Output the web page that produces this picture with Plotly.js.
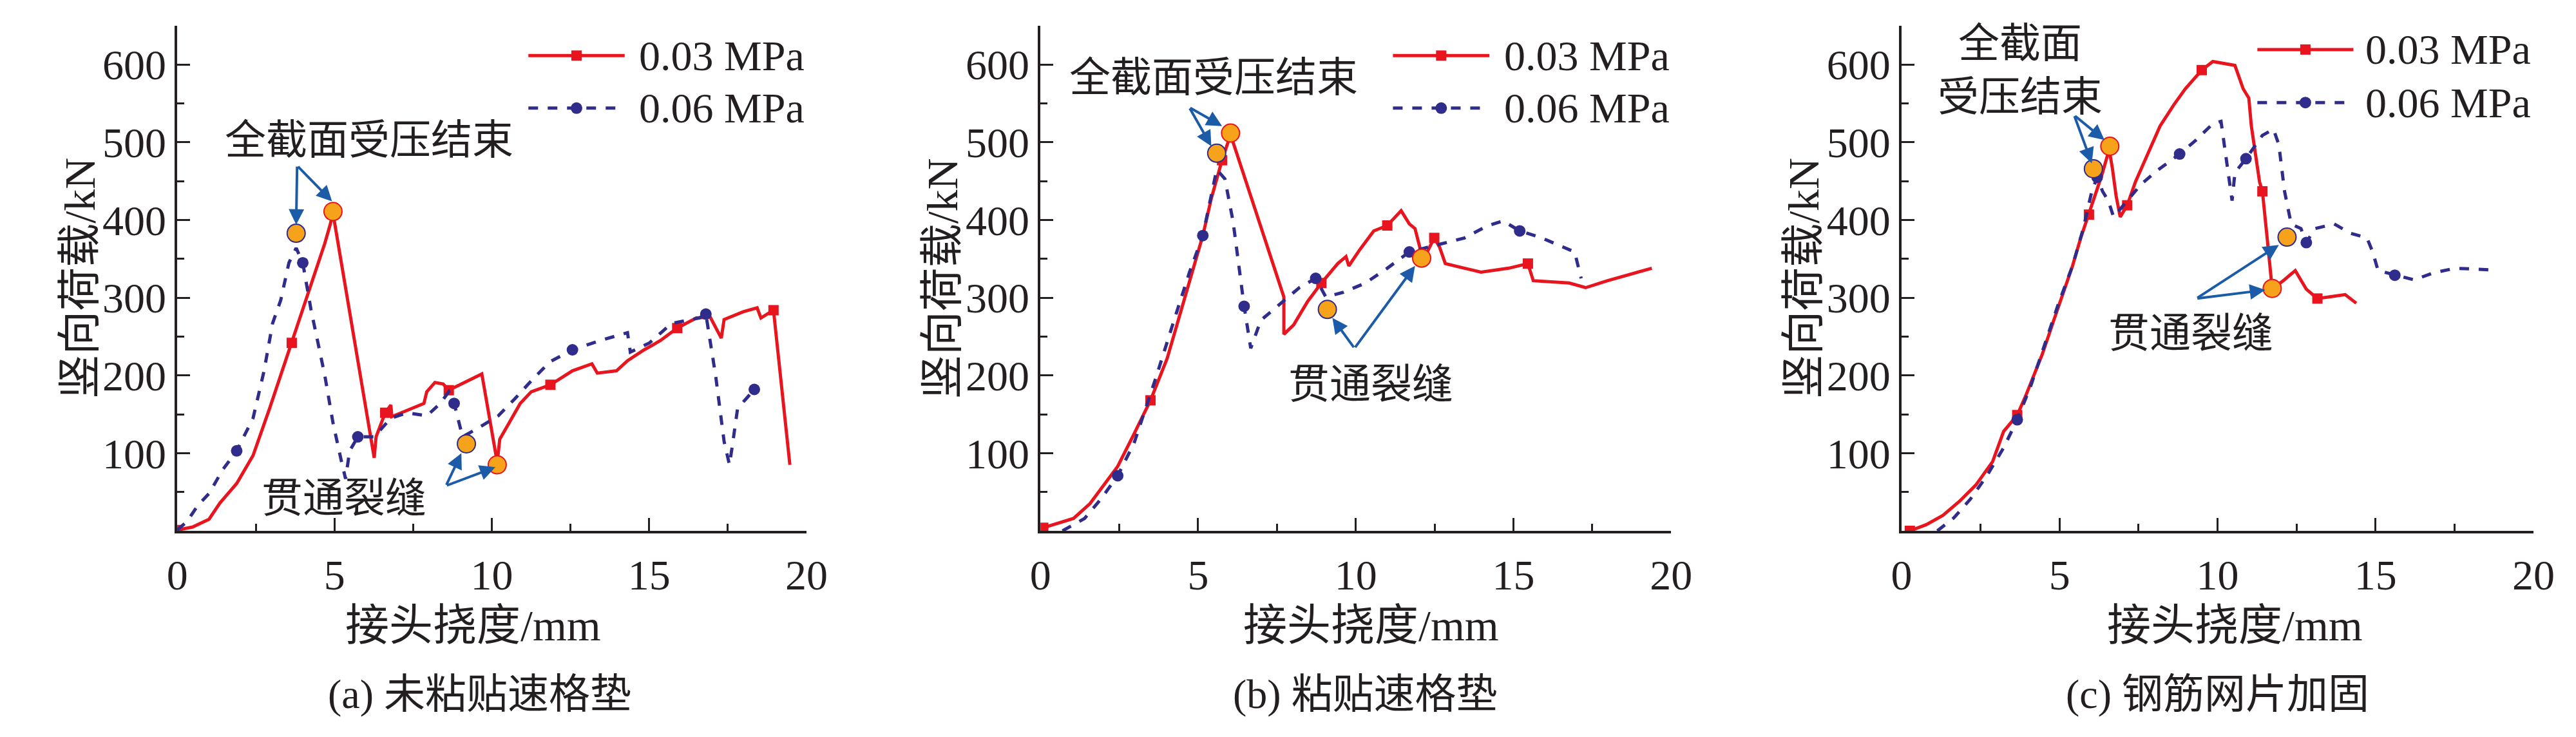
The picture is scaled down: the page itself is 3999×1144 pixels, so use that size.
<!DOCTYPE html>
<html>
<head>
<meta charset="utf-8">
<script src="https://cdn.plot.ly/plotly-3.0.1.min.js"></script>
<style>html,body{margin:0;padding:0;background:#fff}#chart{width:3999px;height:1144px}</style>
</head>
<body>
<div id="chart"></div>
<script>
// 荷载-挠度曲线(三种工况)
const aRedX = [0,0.49,1.01,1.36,1.89,2.41,2.94,3.29,3.64,3.99,4.43,4.69,4.86,4.95,6.26,6.32,6.61,6.79,6.82,7.14,7.84,7.93,8.19,8.45,8.63,8.98,9.68,10.17,10.25,10.55,10.9,11.25,11.86,12.56,13.18,13.35,13.96,14.31,14.84,15.36,15.89,16.5,16.94,17.29,17.38,17.99,18.43,18.55,18.95,19.47]
const aRedY = [1,5,15,36,61,97,158,200,242,285,339,370,394,409,94,121,152,162,147,152,164,179,191,189,181,188,202,88,118,139,164,179,188,206,215,203,206,219,233,245,261,274,275,248,272,282,287,274,284,85]
const aBlueX = [0,0.31,0.66,1.01,1.45,1.89,2.41,2.76,3.03,3.29,3.55,3.78,3.99,4.25,4.69,4.95,5.21,5.35,5.48,5.74,6.26,6.79,7.31,7.93,8.36,8.63,8.8,9.07,9.59,10.2,10.73,11.34,11.86,12.56,13.44,14.31,14.4,15.01,15.71,16.59,16.8,17.11,17.38,17.55,17.64,17.81,18.08,18.34]
const aBlueY = [1,12,33,48,79,103,145,206,267,297,345,364,345,285,200,139,91,67,103,121,121,145,152,148,164,179,164,121,133,148,170,197,218,233,245,255,230,242,267,274,279,200,115,85,109,158,170,182]

const bRedX = [0.09,1.05,1.57,2.0,2.45,2.97,3.49,4.02,4.54,4.89,5.15,5.42,5.76,6.03,7.72,7.72,8.03,8.47,8.91,9.43,9.69,9.78,10.13,10.57,11.0,11.44,11.7,11.88,12.05,12.23,12.49,12.66,12.84,13.45,13.97,14.85,15.46,15.63,16.77,17.29,17.99,19.39]
const bRedY = [4,16,35,59,83,125,168,222,295,344,380,428,477,510,301,253,265,295,319,344,353,341,362,386,393,412,395,389,362,356,377,365,344,338,333,338,344,322,319,313,322,338]
const bBlueX = [0.7,1.4,1.92,2.45,2.97,3.67,4.19,4.72,5.15,5.42,5.59,5.85,6.11,6.46,6.67,6.99,7.69,8.21,8.73,9.05,9.61,10.31,11.0,11.7,12.58,13.45,14.15,14.67,15.2,15.9,16.59,16.94,17.15]
const bBlueY = [0,16,41,71,113,198,265,332,380,435,465,453,398,289,235,271,295,313,325,301,307,319,338,359,368,377,392,399,386,377,365,359,325]

const cRedX = [0.26,0.78,1.31,1.83,2.35,2.88,3.23,3.66,3.92,4.45,4.8,5.06,5.41,5.67,5.93,6.19,6.36,6.57,6.67,6.79,6.92,7.14,7.4,7.66,7.92,8.18,8.61,8.98,9.5,9.85,10.55,10.81,10.99,11.07,11.33,11.42,11.6,11.68,11.73,12.11,12.46,12.81,13.16,13.69,14.04,14.39]
const cRedY = [0,8,20,38,59,89,128,149,173,227,269,299,341,377,407,440,461,491,467,431,404,419,449,473,497,521,548,569,593,604,599,569,557,521,449,437,365,329,311,323,335,311,299,302,304,293]
const cBlueX = [1.13,1.66,2.18,2.7,3.23,3.66,4.1,4.53,4.97,5.41,5.75,6.02,6.19,6.36,6.54,6.71,7.14,7.58,8.1,8.8,9.32,9.85,10.11,10.28,10.46,10.55,10.9,11.42,11.77,11.94,12.12,12.33,12.64,12.81,13.08,13.69,14.21,14.73,14.91,15.08,15.61,16.22,16.83,17.52,18.57]
const cBlueY = [0,17,41,71,107,143,188,239,293,341,389,437,455,437,425,404,425,446,464,485,503,524,527,479,425,461,479,509,517,497,437,395,389,371,389,395,383,377,359,335,329,323,332,338,336]

// 特征点(橙色圆点)
const aKeyRedX = [4.95, 10.17], aKeyRedY = [411, 85]
const aKeyBlueX = [3.78, 9.19], aKeyBlueY = [383, 112]
const bKeyRedX = [6.03, 12.09], bKeyRedY = [512, 351]
const bKeyBlueX = [5.59, 9.1], bKeyBlueY = [486, 285]
const cKeyRedX = [6.59, 11.73], cKeyRedY = [495, 312]
const cKeyBlueX = [6.07, 12.2], cKeyBlueY = [466, 378]

const seriesNames = ["0.03 MPa", "0.06 MPa"]
const captions = ["(a) 未粘贴速格垫", "(b) 粘贴速格垫", "(c) 钢筋网片加固"]
const peakLabels = ["全截面受压结束", "全截面受压结束", "全截面<br>受压结束"]
const crackLabel = "贯通裂缝"
const xTitle = "接头挠度/mm"
const yTitle = "竖向荷载/kN"

const RED = "#e8141e", BLUE = "#2f2c8c", ARROW = "#1c5ba8", INK = "#231f20", ORANGE = "#f7a21b"
const FONT = "'Liberation Serif', 'Noto Sans CJK SC', serif"

const panels = [
  { red: [aRedX, aRedY], blue: [aBlueX, aBlueY], keyR: [aKeyRedX, aKeyRedY], keyB: [aKeyBlueX, aKeyBlueY],
    dom: [0.0688, 0.3131], peak: { x: 6.09, y: 503, tail: [3.81, 470], heads: [[3.78, 394], [4.92, 424]] },
    crack: { x: 5.3, y: 42, tail: [8.54, 58], heads: [[9.03, 100], [10.11, 82]] },
    xt: 0.47, cap: 0.48, leg: [0.558, 0.711, 0.732, 0.941, 0.837] },
  { red: [bRedX, bRedY], blue: [bBlueX, bBlueY], keyR: [bKeyRedX, bKeyRedY], keyB: [bKeyBlueX, bKeyBlueY],
    dom: [0.4039, 0.6487], peak: { x: 5.5, y: 583, tail: [4.72, 545], heads: [[5.42, 495], [5.76, 521]] },
    crack: { x: 10.48, y: 189, tail: [9.96, 235], heads: [[9.26, 274], [11.88, 341]] },
    xt: 0.524, cap: 0.515, leg: [0.559, 0.712, 0.733, 0.941, 0.837] },
  { red: [cRedX, cRedY], blue: [cBlueX, cBlueY], keyR: [cKeyRedX, cKeyRedY], keyB: [cKeyBlueX, cKeyBlueY],
    dom: [0.7382, 0.9835], peak: { x: 3.75, y: 593, tail: [5.46, 535], heads: [[6.02, 473], [6.42, 503]] },
    crack: { x: 9.15, y: 254, tail: [9.33, 299], heads: [[11.94, 368], [11.51, 310]] },
    xt: 0.527, cap: 0.50, leg: [0.563, 0.715, 0.732, 0.953, 0.848] }
]

const traces = [], annotations = [], shapes = []
const layout = {
  width: 3999, height: 1144, margin: { l: 0, r: 0, t: 0, b: 0 },
  paper_bgcolor: "#fff", plot_bgcolor: "#fff", showlegend: false,
  font: { family: FONT, size: 62, color: INK }
}

panels.forEach((p, i) => {
  const n = i === 0 ? "" : String(i + 1)
  const xa = "x" + n, ya = "y" + n
  const axisBase = {
    showline: true, linewidth: 4, linecolor: INK, ticks: "inside", tickwidth: 3, tickcolor: INK,
    ticklen: 20, showgrid: false, zeroline: false, tickfont: { family: FONT, size: 66, color: INK }
  }
  layout["xaxis" + n] = { ...axisBase, domain: p.dom, anchor: ya, range: [0, 20], dtick: 5, tick0: 0, ticklabelstandoff: 8,
    minor: { dtick: 2.5, ticks: "inside", ticklen: 11, tickwidth: 3, tickcolor: INK } }
  layout["yaxis" + n] = { ...axisBase, domain: [0.2797, 0.965], anchor: xa, range: [0, 650],
    tickvals: [100, 200, 300, 400, 500, 600],
    minor: { tickvals: [50, 150, 250, 350, 450, 550, 650], ticks: "inside", ticklen: 11, tickwidth: 3, tickcolor: INK } }

  traces.push({ x: p.red[0], y: p.red[1], xaxis: xa, yaxis: ya, type: "scatter", mode: "lines+markers",
    line: { color: RED, width: 5 }, marker: { symbol: "square", size: 16, color: RED, maxdisplayed: 7 } })
  traces.push({ x: p.blue[0], y: p.blue[1], xaxis: xa, yaxis: ya, type: "scatter", mode: "lines+markers",
    line: { color: BLUE, width: 5, dash: "dash" }, marker: { symbol: "circle", size: 18, color: BLUE, maxdisplayed: 7 } })
  traces.push({ x: p.keyR[0], y: p.keyR[1], xaxis: xa, yaxis: ya, type: "scatter", mode: "markers",
    marker: { size: 28, color: ORANGE, line: { color: RED, width: 2 } } })
  traces.push({ x: p.keyB[0], y: p.keyB[1], xaxis: xa, yaxis: ya, type: "scatter", mode: "markers",
    marker: { size: 28, color: ORANGE, line: { color: BLUE, width: 2 } } })

  const dx = xa + " domain", dy = ya + " domain"
  // 箭头
  ;[p.peak, p.crack].forEach((g) => {
    g.heads.forEach((h) => annotations.push({ x: h[0], y: h[1], xref: xa, yref: ya, ax: g.tail[0], ay: g.tail[1],
      axref: xa, ayref: ya, text: "", showarrow: true, arrowhead: 2, arrowsize: 1.2, arrowwidth: 4, arrowcolor: ARROW }))
  })
  annotations.push({ x: p.peak.x, y: p.peak.y, xref: xa, yref: ya, text: peakLabels[i], showarrow: false,
    font: { family: FONT, size: 64, color: INK } })
  annotations.push({ x: p.crack.x, y: p.crack.y, xref: xa, yref: ya, text: crackLabel, showarrow: false,
    font: { family: FONT, size: 64, color: INK } })
  // 坐标轴标题与图注
  annotations.push({ x: p.xt, y: -0.1875, xref: dx, yref: dy, text: xTitle, showarrow: false, yanchor: "middle",
    font: { family: FONT, size: 68, color: INK } })
  annotations.push({ x: -0.196, y: 0.5, xref: dx, yref: dy, text: yTitle, showarrow: false, textangle: -90,
    font: { family: FONT, size: 68, color: INK } })
  annotations.push({ x: p.cap, y: -0.323, xref: dx, yref: dy, text: captions[i], showarrow: false, yanchor: "middle",
    font: { family: FONT, size: 64, color: INK } })
  // 图例
  const [l0, l1, lt, yr, yb] = p.leg, mid = (l0 + l1) / 2
  shapes.push({ type: "line", xref: dx, yref: dy, x0: l0, x1: l1, y0: yr, y1: yr, line: { color: RED, width: 5 } })
  shapes.push({ type: "line", xref: dx, yref: dy, x0: l0, x1: l1, y0: yb, y1: yb, line: { color: BLUE, width: 5, dash: "dash" } })
  shapes.push({ type: "rect", xref: dx, yref: dy, xsizemode: "pixel", ysizemode: "pixel", xanchor: mid, yanchor: yr,
    x0: -8, x1: 8, y0: -8, y1: 8, fillcolor: RED, line: { width: 0 } })
  shapes.push({ type: "circle", xref: dx, yref: dy, xsizemode: "pixel", ysizemode: "pixel", xanchor: mid, yanchor: yb,
    x0: -9, x1: 9, y0: -9, y1: 9, fillcolor: BLUE, line: { width: 0 } })
  annotations.push({ x: lt, y: yr, xref: dx, yref: dy, text: seriesNames[0], showarrow: false, xanchor: "left", yanchor: "middle",
    font: { family: FONT, size: 66, color: INK } })
  annotations.push({ x: lt, y: yb, xref: dx, yref: dy, text: seriesNames[1], showarrow: false, xanchor: "left", yanchor: "middle",
    font: { family: FONT, size: 66, color: INK } })
})

layout.annotations = annotations
layout.shapes = shapes
Plotly.newPlot("chart", traces, layout, { displayModeBar: false, staticPlot: true })
</script>
</body>
</html>
